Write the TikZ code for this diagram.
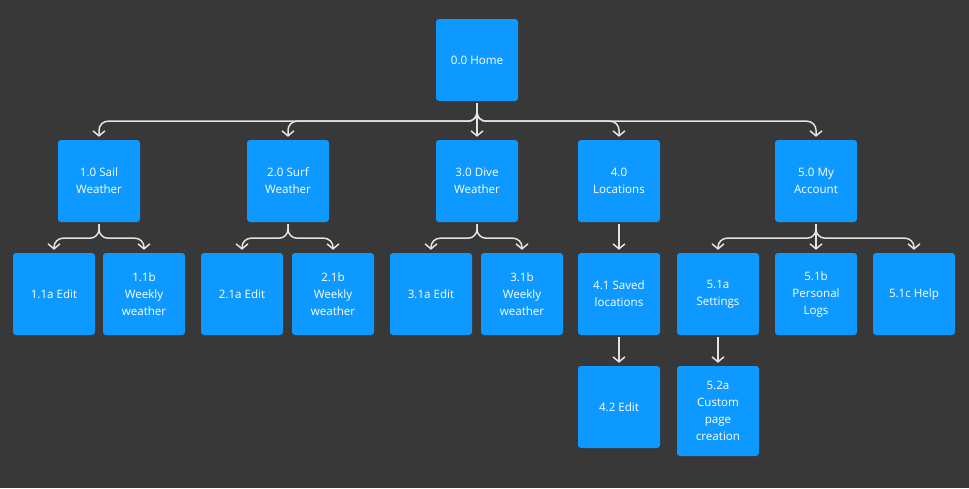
\documentclass[tikz,border=0pt]{standalone}
\usepackage{fontspec}
\setmainfont{Open Sans}
\usepackage{xcolor}
\usepackage{tikz}
\usetikzlibrary{arrows.meta}
\definecolor{canvas}{HTML}{383838}
\definecolor{boxblue}{HTML}{0D99FF}
\definecolor{linkgray}{HTML}{E4E4E4}
\tikzset{>={Straight Barb[length=5pt,width=12pt]}}
\tikzset{card/.style={fill=boxblue, rounded corners=3pt, minimum width=82pt, minimum height=82pt, inner sep=0pt, align=center, text=white, font=\fontsize{11.6}{17}\selectfont}}
\tikzset{link/.style={->, linkgray, line width=1.5pt, rounded corners=9pt, shorten <=2pt, shorten >=3pt}}

\begin{document}
\begin{tikzpicture}[x=1pt,y=1pt]
      \fill[canvas] (0,0) rectangle (969,-488);
      \node[card] (home) at (477,-60) {0.0 Home};
      \node[card] (sail) at (99,-181) {1.0 Sail\\Weather};
      \node[card] (surf) at (288,-181) {2.0 Surf\\Weather};
      \node[card] (dive) at (477,-181) {3.0 Dive\\Weather};
      \node[card] (loc) at (619,-181) {4.0\\Locations};
      \node[card] (acct) at (816,-181) {5.0 My\\Account};
      \node[card] (sailedit) at (54,-294) {1.1a Edit};
      \node[card] (sailweek) at (144,-294) {1.1b\\Weekly\\weather};
      \node[card] (surfedit) at (242,-294) {2.1a Edit};
      \node[card] (surfweek) at (333,-294) {2.1b\\Weekly\\weather};
      \node[card] (diveedit) at (431,-294) {3.1a Edit};
      \node[card] (diveweek) at (522,-294) {3.1b\\Weekly\\weather};
      \node[card] (saved) at (619,-294) {4.1 Saved\\locations};
      \node[card] (settings) at (718,-294) {5.1a\\Settings};
      \node[card] (logs) at (816,-294) {5.1b\\Personal\\Logs};
      \node[card] (help) at (914,-294) {5.1c Help};
      \node[card] (locedit) at (619,-407) {4.2 Edit};
      \node[card, minimum height=90pt] (custom) at (718,-411) {5.2a\\Custom\\page\\creation};
      % level 1
      \draw[link] (home.south) -- ++(0,-20) -| (sail.north);
      \draw[link] (home.south) -- ++(0,-20) -| (surf.north);
      \draw[link] (home.south) -- (dive.north);
      \draw[link] (home.south) -- ++(0,-20) -| (loc.north);
      \draw[link] (home.south) -- ++(0,-20) -| (acct.north);
      % level 2
      \draw[link] (sail.south) -- ++(0,-16) -| (sailedit.north);
      \draw[link] (sail.south) -- ++(0,-16) -| (sailweek.north);
      \draw[link] (surf.south) -- ++(0,-16) -| (surfedit.north);
      \draw[link] (surf.south) -- ++(0,-16) -| (surfweek.north);
      \draw[link] (dive.south) -- ++(0,-16) -| (diveedit.north);
      \draw[link] (dive.south) -- ++(0,-16) -| (diveweek.north);
      \draw[link] (loc.south) -- (saved.north);
      \draw[link] (acct.south) -- ++(0,-16) -| (settings.north);
      \draw[link] (acct.south) -- (logs.north);
      \draw[link] (acct.south) -- ++(0,-16) -| (help.north);
      % level 3
      \draw[link] (saved.south) -- (locedit.north);
      \draw[link] (settings.south) -- (custom.north);
    \end{tikzpicture}
\end{document}
